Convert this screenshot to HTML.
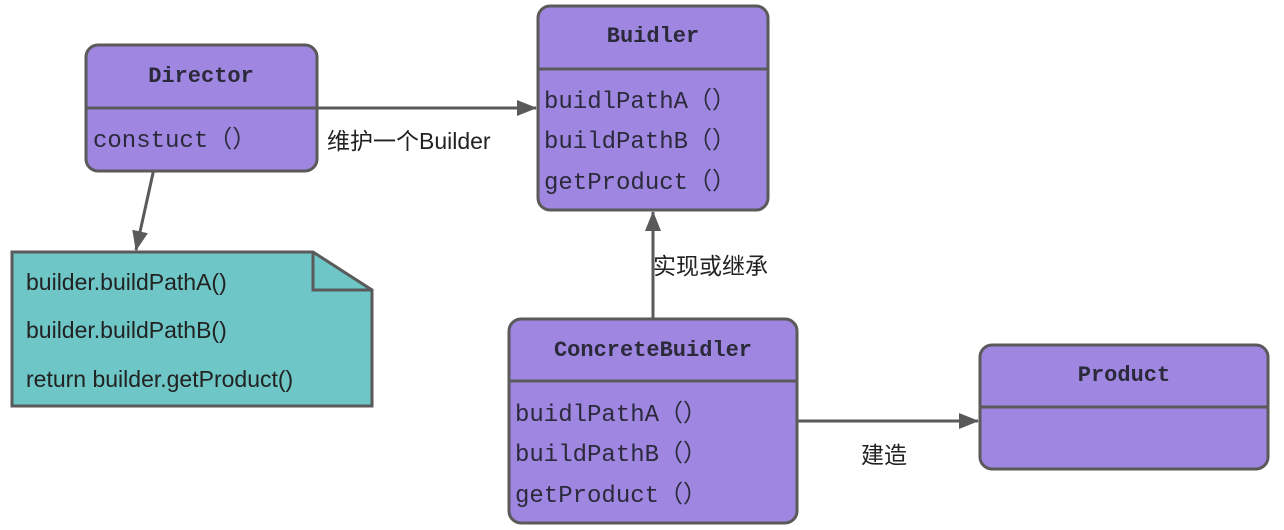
<!DOCTYPE html>
<html><head><meta charset="utf-8"><style>body{margin:0;background:#fff}svg{display:block}</style></head><body>
<svg width="1284" height="530" viewBox="0 0 1284 530" xmlns="http://www.w3.org/2000/svg">
<defs><marker id="ar" markerWidth="10" markerHeight="10" refX="9" refY="5" orient="auto" markerUnits="userSpaceOnUse" viewBox="0 0 10 10"><path d="M0,0 L10,5 L0,10 z" fill="#5a5a5a"/></marker>
<marker id="ah" markerWidth="20" markerHeight="16" refX="19" refY="8" orient="auto" markerUnits="userSpaceOnUse"><path d="M0,0 L20,8 L0,16 z" fill="#5a5a5a"/></marker></defs>
<g stroke="#5a5a5a" stroke-width="3" fill="none">
<line x1="317" y1="108" x2="536" y2="108" marker-end="url(#ah)"/>
<line x1="155" y1="164" x2="136" y2="250" marker-end="url(#ah)"/>
<line x1="653" y1="319" x2="653" y2="212" marker-end="url(#ah)"/>
<line x1="797" y1="421" x2="978" y2="421" marker-end="url(#ah)"/>
</g>
<g stroke="#5a5a5a" stroke-width="3" fill="#9f86e0">
<rect x="86" y="45" width="231" height="126" rx="12"/>
<line x1="86" y1="108" x2="317" y2="108"/>
<rect x="538" y="6" width="230" height="204" rx="12"/>
<line x1="538" y1="69" x2="768" y2="69"/>
<rect x="509" y="319" width="288" height="204" rx="12"/>
<line x1="509" y1="381" x2="797" y2="381"/>
<rect x="980" y="345" width="288" height="124" rx="12"/>
<line x1="980" y1="407" x2="1268" y2="407"/>
</g>
<path d="M12,252 L313,252 L372,290 L372,406 L12,406 Z" fill="#6ec6c6" stroke="#5a5a5a" stroke-width="3"/>
<path d="M313,252 L313,290 L372,290" fill="none" stroke="#5a5a5a" stroke-width="3"/>
<g font-family="'Liberation Mono','DejaVu Sans Mono',monospace" fill="#2a2a3a">
<g font-weight="bold" font-size="22" text-anchor="middle">
<text x="201" y="82">Director</text>
<text x="653" y="42">Buidler</text>
<text x="653" y="356">ConcreteBuidler</text>
<text x="1124" y="381">Product</text>
</g>
<g font-size="24">
<text x="93" y="147">constuct（）</text>
<text x="544" y="108">buidlPathA（）</text>
<text x="544" y="148">buildPathB（）</text>
<text x="544" y="189">getProduct（）</text>
<text x="515" y="421">buidlPathA（）</text>
<text x="515" y="461">buildPathB（）</text>
<text x="515" y="502">getProduct（）</text>
</g></g>
<g font-family="'Liberation Sans','Noto Sans CJK SC',sans-serif" font-size="23" fill="#222">
<text x="26" y="290">builder.buildPathA()</text>
<text x="26" y="338">builder.buildPathB()</text>
<text x="26" y="387">return builder.getProduct()</text>
<text x="327" y="149">维护一个Builder</text>
<text x="653" y="274">实现或继承</text>
<text x="861" y="463">建造</text>
</g>
</svg>
</body></html>
